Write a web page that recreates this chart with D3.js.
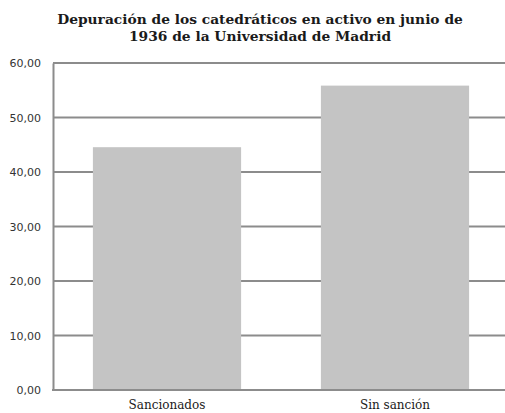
<!DOCTYPE html>
<html>
<head>
<meta charset="utf-8">
<script src="https://cdn.jsdelivr.net/npm/d3@7"></script>
<style>
  body { margin: 0; background: #fff; }
  svg { display: block; }
</style>
</head>
<body>
<svg id="chart" width="505" height="413"></svg>
<script>
// data
var categories = ['Sancionados', 'Sin sanción'];
var values = [44.55, 55.85];
var tickValues = [0, 10, 20, 30, 40, 50, 60];
var titleLines = ['Depuración de los catedráticos en activo en junio de', '1936 de la Universidad de Madrid'];

var svg = d3.select('#chart');
var plotLeft = 53, plotRight = 509, plotTop = 63, plotBottom = 390;

var x = d3.scaleBand().domain(categories).range([plotLeft, plotRight]).paddingInner(0.35).paddingOuter(0.175);
var y = d3.scaleLinear().domain([0, 60]).range([plotBottom, plotTop]);

svg.append('g')
  .selectAll('text')
  .data(titleLines)
  .enter().append('text')
  .attr('x', 260)
  .attr('y', function(d, i) { return 24 + i * 17; })
  .attr('text-anchor', 'middle')
  .attr('font-family', 'DejaVu Serif, serif')
  .attr('font-weight', 'bold')
  .attr('font-size', '13.8px')
  .attr('fill', '#1a1a1a')
  .text(function(d) { return d; });

// gridlines
svg.append('g')
  .selectAll('line')
  .data(tickValues.filter(function(d) { return d > 0; }))
  .enter().append('line')
  .attr('x1', plotLeft).attr('x2', plotRight)
  .attr('y1', function(d) { return y(d); })
  .attr('y2', function(d) { return y(d); })
  .attr('stroke', '#8c8c8c')
  .attr('stroke-width', 2);

// bars
svg.append('g')
  .selectAll('rect')
  .data(values)
  .enter().append('rect')
  .attr('x', function(d, i) { return x(categories[i]); })
  .attr('y', function(d) { return y(d); })
  .attr('width', x.bandwidth())
  .attr('height', function(d) { return plotBottom - y(d); })
  .attr('fill', '#c4c4c4');

// axes
var yAxis = svg.append('g')
  .attr('transform', 'translate(' + plotLeft + ',0)')
  .call(d3.axisLeft(y).tickValues(tickValues).tickSize(0).tickPadding(12)
    .tickFormat(function(d) { return d3.format('.2f')(d).replace('.', ','); }));
yAxis.select('.domain').attr('stroke', '#8c8c8c').attr('stroke-width', 2);
yAxis.selectAll('text')
  .attr('font-family', 'DejaVu Sans, sans-serif')
  .attr('font-size', '11px')
  .attr('fill', '#333');

var xAxis = svg.append('g')
  .attr('transform', 'translate(0,' + plotBottom + ')')
  .call(d3.axisBottom(x).tickSize(0).tickPadding(10));
xAxis.select('.domain').remove();
xAxis.append('line')
  .attr('x1', plotLeft - 1).attr('x2', plotRight)
  .attr('stroke', '#8c8c8c').attr('stroke-width', 2);
xAxis.selectAll('text')
  .attr('font-family', 'DejaVu Serif, serif')
  .attr('font-size', '12px')
  .attr('fill', '#1a1a1a');
</script>
</body>
</html>
